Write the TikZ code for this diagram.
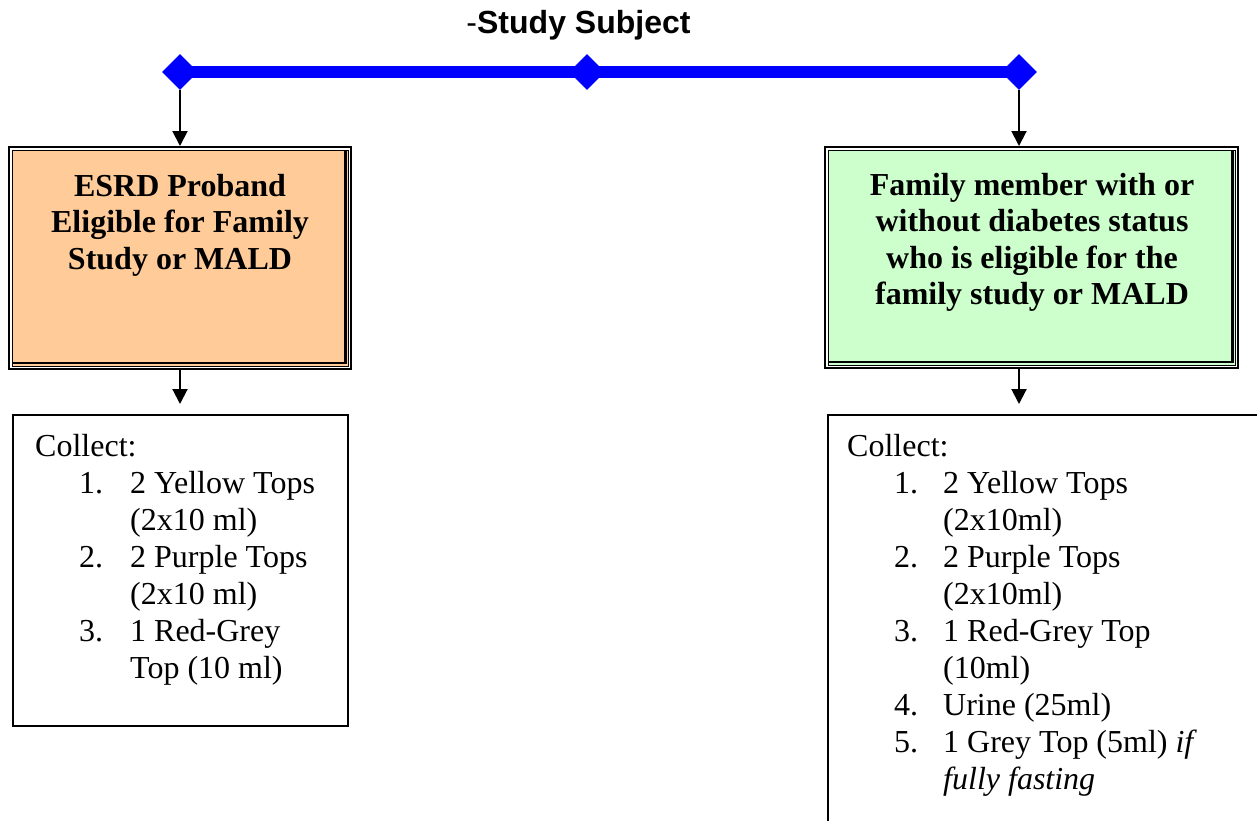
\documentclass[tikz,border=0pt]{standalone}
\usepackage{fontspec}
\setmainfont{Liberation Serif}
\newfontfamily\headfont{Liberation Sans}
\usetikzlibrary{shapes.geometric,arrows.meta,calc}

\definecolor{probandfill}{HTML}{FFCC99}
\definecolor{memberfill}{HTML}{CCFFCC}
\definecolor{barblue}{HTML}{0000FF}

\begin{document}
\begin{tikzpicture}[x=1pt,y=-1pt,
  hub/.style={diamond, fill=barblue, minimum width=36pt, minimum height=36pt, inner sep=0pt},
  bar/.style={draw=barblue, line width=12pt},
  outerframe/.style={draw=black, line width=2pt, inner sep=0pt},
  panel/.style={draw=black, line width=1pt, inner sep=0pt, outer sep=0pt},
  shadowline/.style={line width=2.6pt},
  headtext/.style={font=\fontsize{32}{36.3}\selectfont\bfseries, align=center, inner sep=0pt, anchor=north},
  listtext/.style={font=\fontsize{32}{37}\selectfont, align=left, inner sep=0pt, anchor=north west},
  listbox/.style={draw=black, line width=2pt, inner sep=0pt, anchor=north west},
  link/.style={draw=black, line width=2pt, -{Triangle[width=15pt,length=15pt]}}
]
\useasboundingbox (0,0) rectangle (1257,820);
\clip (0,0) rectangle (1257,820);

% heading
\node[font=\headfont\fontsize{32}{38}\selectfont, anchor=base, inner sep=0pt] (title)
  at (578.5,33) {-\textbf{Study Subject}};

% blue distribution bar with its three diamonds
\node[hub] (ld) at (180,72) {};
\node[hub] (md) at (587,72) {};
\node[hub] (rd) at (1019,72) {};
\draw[bar] (ld.center) -- (md.center) -- (rd.center);

% proband panel
\node[outerframe, minimum width=342pt, minimum height=222pt] (esrdf) at (180,258) {};
\node[panel, fill=probandfill, minimum width=336pt, minimum height=216pt] (esrd) at (180,258) {};
\draw[shadowline] ($(esrd.north east)+(-2.3,1)$) |- ($(esrd.south west)+(1,-3)$);
\node[headtext] (esrdtxt) at (180,174) {ESRD Proband\\Eligible for Family\\Study or MALD};

% family member panel
\node[outerframe, minimum width=413pt, minimum height=221pt] (famf) at (1031.5,257.5) {};
\node[panel, fill=memberfill, minimum width=407pt, minimum height=215pt] (fam) at (1031.5,257.5) {};
\draw[shadowline] ($(fam.north east)+(-2.3,1)$) |- ($(fam.south west)+(1,-3)$);
\node[headtext] (famtxt) at (1032,173) {Family member with or\\without diabetes status\\who is eligible for the\\family study or MALD};

% collection lists
\node[listbox, minimum width=335pt, minimum height=311pt] (lc) at (12,414) {};
\node[listtext] (lctxt) at (35,434) {Collect:\\
\hspace*{44pt}\makebox[51pt][l]{1.}2 Yellow Tops\\
\hspace*{95pt}(2x10 ml)\\
\hspace*{44pt}\makebox[51pt][l]{2.}2 Purple Tops\\
\hspace*{95pt}(2x10 ml)\\
\hspace*{44pt}\makebox[51pt][l]{3.}1 Red-Grey\\
\hspace*{95pt}Top (10 ml)};

\node[listbox, minimum width=600pt, minimum height=600pt] (rc) at (827,414) {};
\node[listtext] (rctxt) at (847,434) {Collect:\\
\hspace*{47pt}\makebox[49pt][l]{1.}2 Yellow Tops\\
\hspace*{96pt}(2x10ml)\\
\hspace*{47pt}\makebox[49pt][l]{2.}2 Purple Tops\\
\hspace*{96pt}(2x10ml)\\
\hspace*{47pt}\makebox[49pt][l]{3.}1 Red-Grey Top\\
\hspace*{96pt}(10ml)\\
\hspace*{47pt}\makebox[49pt][l]{4.}Urine (25ml)\\
\hspace*{47pt}\makebox[49pt][l]{5.}1 Grey Top (5ml) \textit{if}\\
\hspace*{96pt}\textit{fully fasting}};

% connectors
\draw[link] (ld.south) -- (ld.south |- esrdf.north);
\draw[link] (rd.south) -- (rd.south |- famf.north);
\draw[link, shorten >=10pt] (ld |- esrdf.south) -- (ld |- lc.north);
\draw[link, shorten >=10pt] (rd |- famf.south) -- (rd |- rc.north);
\end{tikzpicture}
\end{document}
